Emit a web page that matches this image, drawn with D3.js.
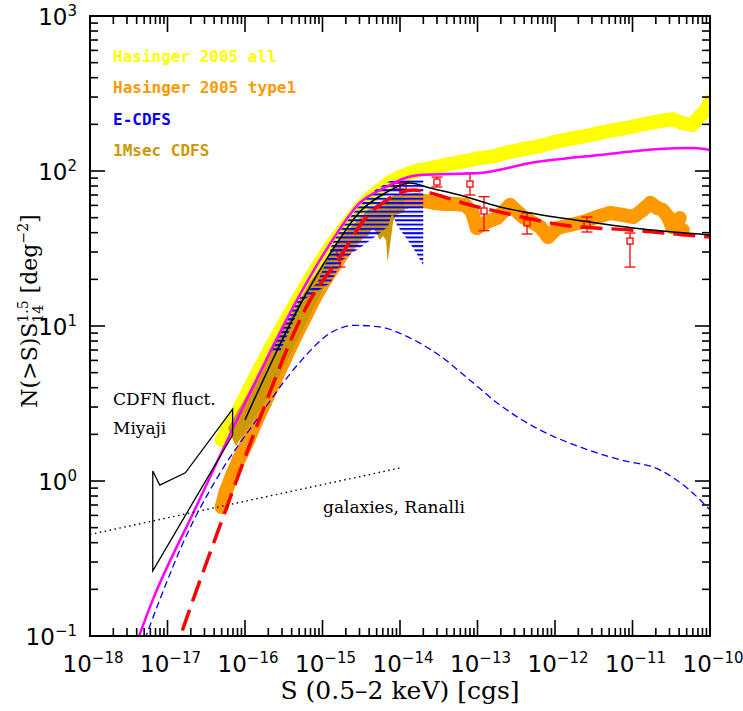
<!DOCTYPE html>
<html>
<head>
<meta charset="utf-8">
<script src="https://cdn.jsdelivr.net/npm/d3@7"></script>
<style>
  html, body { margin: 0; padding: 0; background: #fff; }
  svg { display: block; }
</style>
</head>
<body>
<svg id="chart"></svg>
<script>
// Fluxes are stored as log10 S (erg s^-1 cm^-2), values as N(>S) S^1.5 in deg^-2.

// Hasinger 2005, all sources
const allLogS = [-16.30, -16.25, -16.17, -16.07, -15.94, -15.81, -15.68, -15.55, -15.42, -15.29,
  -15.16, -15.03, -14.90, -14.77, -14.65, -14.52, -14.39, -14.26, -14.13, -14.00,
  -13.87, -13.74, -13.55, -13.36, -13.16, -12.97, -12.77, -12.58, -12.39, -12.19,
  -12.00, -11.81, -11.61, -11.42, -11.23, -11.03, -10.84, -10.65, -10.49, -10.36,
  -10.23, -10.13, -10.05, -10.00];
const allN = [1.84, 2.07, 2.40, 2.95, 3.95, 5.30, 7.05, 9.25, 12.1, 15.6,
  20.1, 25.7, 32.3, 39.5, 47.5, 57.0, 66.9, 75.4, 84.9, 91.5,
  97.1, 101.5, 106, 111, 116, 121, 125, 133, 139, 145,
  154, 161, 168, 176, 184, 192, 201, 210, 216, 204,
  198, 226, 248, 279];

// Hasinger 2005, type 1 AGN
const type1LogS = [-16.30, -16.25, -16.16, -16.07, -15.97, -15.86, -15.74, -15.61, -15.48, -15.36,
  -15.23, -15.10, -14.97, -14.84, -14.71, -14.58, -14.45, -14.32, -14.19, -14.07,
  -13.94, -13.81, -13.68, -13.55, -13.42, -13.29, -13.16, -13.07, -13.01, -12.88,
  -12.75, -12.58, -12.41, -12.19, -12.09, -11.97, -11.81, -11.64, -11.46, -11.29,
  -11.12, -10.99, -10.87, -10.77, -10.68, -10.61, -10.54, -10.49, -10.39, -10.35];
const type1N = [0.680, 0.849, 1.11, 1.41, 1.79, 2.40, 3.23, 4.48, 6.22, 8.37,
  11.3, 15.2, 19.8, 24.7, 30.9, 37.5, 44.2, 50.5, 56.0, 60.4,
  63.1, 65.0, 64.0, 62.2, 61.2, 61.2, 60.4, 54.4, 42.9, 46.9,
  49.7, 60.4, 50.5, 43.5, 37.5, 42.9, 44.8, 46.9, 50.5, 53.6,
  52.0, 50.5, 56.0, 62.2, 57.7, 56.0, 50.5, 43.5, 49.7, 41.6];

// 1Msec CDFS envelope
const cdfsUpLogS = [-16.22, -15.94, -15.55, -15.16, -14.77, -14.39, -14.07, -13.94];
const cdfsUpN = [2.20, 3.86, 8.75, 19.2, 37.0, 57.7, 70.0, 69.0];
const cdfsLoLogS = [-16.12, -15.68, -15.29, -15.03, -14.84, -14.71, -14.65, -14.57, -14.49, -14.41,
  -14.36, -14.31, -14.26, -14.22, -14.18, -14.16, -14.12, -14.09, -14.05, -13.94];
const cdfsLoN = [1.68, 3.59, 8.75, 15.8, 24.7, 33.3, 32.3, 34.3, 37.0, 38.1,
  42.9, 40.4, 35.9, 38.1, 35.9, 25.9, 35.9, 46.9, 52.0, 54.4];

// E-CDFS envelope
const ecdfsUpLogS = [-15.68, -15.33, -15.07, -14.94, -14.87, -14.74, -14.54, -14.32, -14.13, -13.70];
const ecdfsUpN = [7.0, 14.7, 18.9, 26.7, 34.3, 43.5, 58.6, 75.4, 86.2, 88.8];
const ecdfsLoLogS = [-15.55, -15.25, -14.90, -14.74, -14.43, -14.16, -14.10, -14.04, -13.94, -13.83, -13.70];
const ecdfsLoN = [6.8, 14.7, 18.9, 26.7, 34.3, 43.5, 53.6, 44.8, 38.1, 31.9, 24.7];

// points with error bars
const errLogS = [-14.774, -14.039, -13.961, -13.523, -13.097, -12.916, -12.361, -11.587, -11.032];
const errN = [29.6, 80.0, 80.0, 84.9, 82.4, 55.2, 46.3, 45.5, 35.3];
const errLo = [24.0, 76.0, 76.0, 78.9, 70.0, 41.2, 39.2, 40.4, 24.0];
const errHi = [31.0, 84.0, 84.0, 91.4, 97.0, 68.3, 53.6, 50.5, 39.8];

// model curves
const totalLogS = [-17.48, -17.19, -16.65, -15.98, -15.33, -14.87, -14.52, -14.17, -14.00, -13.74,
  -13.36, -12.97, -12.32, -11.42, -10.65, -10.22, -10.00];
const totalN = [0.070, 0.171, 0.65, 3.33, 14.7, 35.9, 62.2, 79.2, 87.5, 94.2,
  95.7, 97.1, 112.6, 126.9, 138.6, 140.7, 136.6];

const blackLogS = [-16.00, -15.29, -14.83, -14.52, -14.19, -13.87, -13.61, -13.23, -12.71, -12.32,
  -11.46, -10.87, -10.00];
const blackN = [2.48, 13.7, 33.3, 54.4, 72.1, 83.7, 77.7, 70.0, 58.6, 53.6, 46.2, 42.2, 38.7];

const redLogS = [-16.94, -16.67, -16.28, -15.85, -15.16, -14.77, -14.43, -14.17, -13.83, -13.61,
  -13.19, -12.54, -11.90, -11.03, -10.00];
const redN = [0.070, 0.171, 0.589, 2.24, 14.7, 28.0, 50.7, 65.0, 75.4, 72.1, 62.2, 52.0, 44.8, 41.6, 37.5];

const blueLogS = [-17.39, -17.10, -16.80, -16.32, -15.85, -15.29, -14.90, -14.58, -14.26, -13.87,
  -13.48, -13.10, -12.71, -12.19, -11.68, -11.16, -10.65, -10.26, -10.00];
const blueN = [0.070, 0.171, 0.398, 1.13, 2.48, 5.86, 9.0, 10.1, 9.86, 8.37,
  6.4, 4.48, 3.09, 2.13, 1.66, 1.37, 1.18, 0.87, 0.65];

// normal galaxies, Ranalli
const galLogS = [-18.0, -14.0];
const galN = [0.452, 1.213];

// CDFN fluctuation analysis, Miyaji
const cdfnUpLogS = [-17.19, -17.10, -16.77, -16.16];
const cdfnUpN = [1.16, 0.942, 1.13, 2.91];
const cdfnLoLogS = [-17.19, -16.16];
const cdfnLoN = [0.263, 1.98];

const xExps = [-18, -17, -16, -15, -14, -13, -12, -11, -10];
const yExps = [-1, 0, 1, 2, 3];

const legendItems = [
  { text: 'Hasinger 2005 all', color: '#ffff00' },
  { text: 'Hasinger 2005 type1', color: '#ff9900' },
  { text: 'E-CDFS', color: '#0000ff' },
  { text: '1Msec CDFS', color: '#cc9900' }
];

const sans = "'DejaVu Sans', sans-serif";
const serif = "'DejaVu Serif', serif";
const mono = "'DejaVu Sans Mono', monospace";

const width = 743, height = 711;
const pL = 90, pR = 710, pT = 16, pB = 636;

const x = d3.scaleLog().domain([1e-18, 1e-10]).range([pL, pR]);
const y = d3.scaleLog().domain([0.1, 1000]).range([pB, pT]);

const svg = d3.select('#chart').attr('width', width).attr('height', height);
const defs = svg.append('defs');
defs.append('clipPath').attr('id', 'plot-clip')
  .append('rect').attr('x', pL).attr('y', pT).attr('width', pR - pL).attr('height', pB - pT);

const hatch = defs.append('pattern').attr('id', 'hatch')
  .attr('patternUnits', 'userSpaceOnUse').attr('width', 10).attr('height', 4.3);
hatch.append('rect').attr('width', 10).attr('height', 2).attr('fill', '#0000ff');

const zip = (ls, ns) => ls.map((s, i) => ({ s: Math.pow(10, s), n: ns[i] }));
const lineSN = d3.line().x(d => x(d.s)).y(d => y(d.n));
const smooth = d3.line().x(d => x(d.s)).y(d => y(d.n)).curve(d3.curveMonotoneX);
const region = (us, un, ls, ln) => lineSN(zip(us, un).concat(zip(ls, ln).reverse())) + 'Z';

const plot = svg.append('g').attr('clip-path', 'url(#plot-clip)');

function dotBand(ls, ns, color, r, nLine) {
  const pts = zip(ls, ns);
  plot.append('path').datum(pts.slice(0, nLine)).attr('d', lineSN)
    .attr('fill', 'none').attr('stroke', color).attr('stroke-width', 2 * r)
    .attr('stroke-linecap', 'round').attr('stroke-linejoin', 'round');
  plot.append('g').selectAll('circle').data(pts).join('circle')
    .attr('cx', d => x(d.s)).attr('cy', d => y(d.n)).attr('r', r).attr('fill', color);
}

dotBand(allLogS, allN, '#ffff00', 7, allLogS.length);
dotBand(type1LogS, type1N, '#ff9900', 7, type1LogS.length - 2);

plot.append('path').attr('d', region(cdfsUpLogS, cdfsUpN, cdfsLoLogS, cdfsLoN))
  .attr('fill', '#cc9900');

// error bars with open squares
const eb = plot.append('g').attr('stroke', '#ff0000').attr('stroke-width', 1.3).attr('fill', 'none');
errLogS.forEach((s, i) => {
  const cx = x(Math.pow(10, s));
  const cy = y(errN[i]);
  const yh = y(errHi[i]), yl = y(errLo[i]);
  if (yh < cy - 3) eb.append('line').attr('x1', cx).attr('x2', cx).attr('y1', yh).attr('y2', cy - 3);
  if (yl > cy + 3) eb.append('line').attr('x1', cx).attr('x2', cx).attr('y1', cy + 3).attr('y2', yl);
  [yh, yl].forEach(v => eb.append('line').attr('x1', cx - 5.5).attr('x2', cx + 5.5).attr('y1', v).attr('y2', v));
  eb.append('rect').attr('x', cx - 3).attr('y', cy - 3).attr('width', 6).attr('height', 6);
});

plot.append('path').attr('d', region(ecdfsUpLogS, ecdfsUpN, ecdfsLoLogS, ecdfsLoN))
  .attr('fill', 'url(#hatch)');

plot.append('path').datum(zip(blueLogS, blueN)).attr('d', smooth)
  .attr('fill', 'none').attr('stroke', '#0000ff').attr('stroke-width', 1.3).attr('stroke-dasharray', '7,4');
plot.append('path').datum(zip(totalLogS, totalN)).attr('d', smooth)
  .attr('fill', 'none').attr('stroke', '#ff00ff').attr('stroke-width', 2.5);
plot.append('path').datum(zip(redLogS, redN)).attr('d', smooth)
  .attr('fill', 'none').attr('stroke', '#ff0000').attr('stroke-width', 3.5).attr('stroke-dasharray', '22,9');
plot.append('path').datum(zip(blackLogS, blackN)).attr('d', smooth)
  .attr('fill', 'none').attr('stroke', '#000').attr('stroke-width', 1.5);
plot.append('path').datum(zip(galLogS, galN)).attr('d', lineSN)
  .attr('fill', 'none').attr('stroke', '#000').attr('stroke-width', 1.4).attr('stroke-dasharray', '1.5,3.5');
plot.append('path').attr('d', region(cdfnUpLogS, cdfnUpN, cdfnLoLogS, cdfnLoN))
  .attr('fill', 'none').attr('stroke', '#000').attr('stroke-width', 1.3);

// frame and ticks
const axes = svg.append('g').attr('stroke', '#000').attr('stroke-width', 1.6);
const isMajor = t => Math.abs(Math.log10(t) - Math.round(Math.log10(t))) < 1e-6;
x.ticks().forEach(t => {
  const px = x(t), len = isMajor(t) ? 16 : 8;
  axes.append('line').attr('x1', px).attr('x2', px).attr('y1', pB).attr('y2', pB - len);
  axes.append('line').attr('x1', px).attr('x2', px).attr('y1', pT).attr('y2', pT + len);
});
y.ticks().forEach(t => {
  const py = y(t), len = isMajor(t) ? 15 : 8;
  axes.append('line').attr('x1', pL).attr('x2', pL + len).attr('y1', py).attr('y2', py);
  axes.append('line').attr('x1', pR).attr('x2', pR - len).attr('y1', py).attr('y2', py);
});
svg.append('rect').attr('x', pL).attr('y', pT).attr('width', pR - pL).attr('height', pB - pT)
  .attr('fill', 'none').attr('stroke', '#000').attr('stroke-width', 2);

const expText = e => (e < 0 ? '\u2212' : '') + Math.abs(e);
function powerLabel(t, e) {
  t.append('tspan').text('10');
  t.append('tspan').attr('dy', -9).attr('font-size', 15).text(expText(e));
}

xExps.forEach(e => {
  const t = svg.append('text').attr('x', x(Math.pow(10, e)) + 3).attr('y', 672)
    .attr('text-anchor', 'middle').attr('font-family', sans).attr('font-size', 23);
  powerLabel(t, e);
});
yExps.forEach(e => {
  const t = svg.append('text').attr('x', 77).attr('y', y(Math.pow(10, e)) + 8.5)
    .attr('text-anchor', 'end').attr('font-family', sans).attr('font-size', 23);
  powerLabel(t, e);
});

svg.append('text').attr('x', 400).attr('y', 699).attr('text-anchor', 'middle')
  .attr('font-family', serif).attr('font-size', 25).text('S (0.5\u20132 keV) [cgs]');

// y title with stacked super/subscript
const yTitle = svg.append('g').attr('font-family', serif);
let cx = 0;
const piece = (txt, size, dy) => yTitle.append('text').attr('x', cx).attr('y', dy)
  .attr('font-size', size).text(txt).node().getComputedTextLength();
cx += piece('N(>S)S', 22, 0);
const wSup = piece('1.5', 14, -9);
const wSub = piece('14', 14, 6);
cx += Math.max(wSup, wSub) + 7;
cx += piece('[deg', 22, 0);
cx += piece('\u22122', 14, -9);
cx += piece(']', 22, 0);
yTitle.attr('transform', `translate(37,${311 + cx / 2}) rotate(-90)`);

// legend
legendItems.forEach((d, i) => {
  svg.append('text').attr('x', 113).attr('y', 62 + i * 31.3)
    .attr('font-family', mono).attr('font-size', 16).attr('font-weight', 'bold')
    .attr('fill', d.color).text(d.text);
});

// annotations
const notes = [
  { text: 'CDFN fluct.', x: 113, y: 405 },
  { text: 'Miyaji', x: 113, y: 434 },
  { text: 'galaxies, Ranalli', x: 323, y: 513 }
];
notes.forEach(d => svg.append('text').attr('x', d.x).attr('y', d.y)
  .attr('font-family', serif).attr('font-size', 17).text(d.text));
</script>
</body>
</html>
